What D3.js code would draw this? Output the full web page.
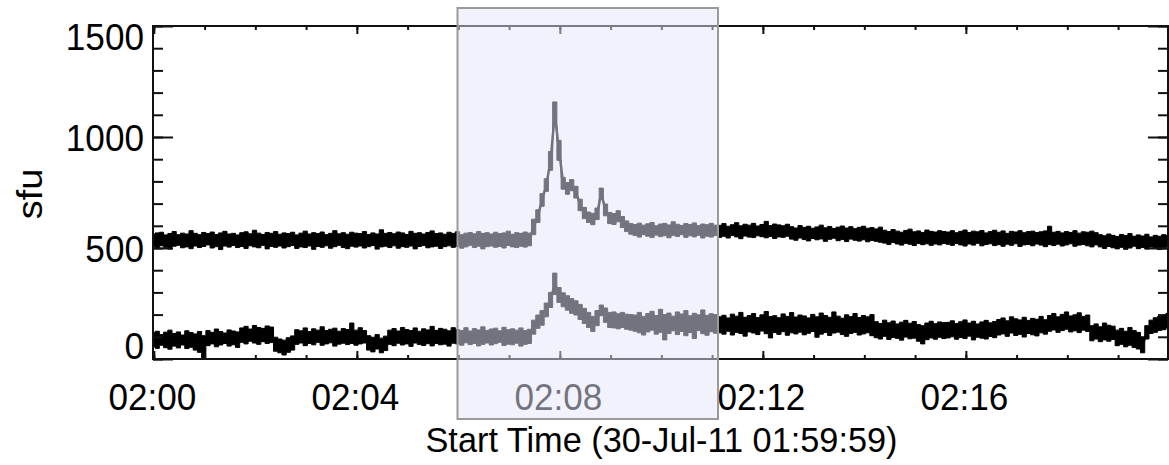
<!DOCTYPE html>
<html><head><meta charset="utf-8">
<script src="https://cdn.jsdelivr.net/npm/d3@7"></script>
<style>
body{margin:0;background:#fff}
svg{display:block}
text{font-family:"Liberation Sans",Arial,Helvetica,sans-serif;fill:#000}
</style>
</head><body>
<svg id="chart" width="1169" height="465"></svg>
<script>
// ---------- data ----------
const startTime = "2011-07-30T01:59:59";
const durationMin = 20;
const cadenceSec = 5;
const xTickLabels = ["02:00","02:04","02:08","02:12","02:16"];
const yTickValues = [0, 500, 1000, 1500];
const yLabel = "sfu";
const xTitle = "Start Time (30-Jul-11 01:59:59)";
const highlightWindow = ["2011-07-30T02:05:59", "2011-07-30T02:11:07"];

// upper series (sfu): envelope low / high per 5-s sample
const upperHi = [
562,568,571,559,565,574,560,567,563,578,566,560,570,565,572,561,568,575,563,566,
559,569,573,564,580,567,561,570,566,574,562,568,565,571,559,567,576,563,569,565,
572,560,566,578,564,569,562,571,567,565,574,561,568,563,582,566,570,564,572,568,
561,575,566,569,563,570,577,565,568,562,571,566,573,560,567,570,564,574,566,569,
563,571,565,568,576,562,569,566,572,567,
630,672,745,812,935,1158,985,818,795,808,778,720,683,662,656,680,770,698,660,655,668,642,622,610,
606,612,603,609,615,600,608,611,604,618,607,602,610,606,613,601,608,605,611,603,
602,610,598,605,614,600,607,603,611,599,606,620,601,608,604,600,607,
596,590,601,593,598,589,595,603,591,597,588,594,599,590,596,587,593,598,589,592,586,594,
580,574,583,576,571,579,585,573,577,570,581,575,572,578,574,
572,578,569,575,581,570,576,573,579,568,574,580,571,577,566,575,572,578,569,574,
576,570,573,577,598,571,575,568,574,570,578,567,573,571,576,569,
560,555,563,557,552,561,556,565,553,559,554,562,550,557,553,560,556
];
const upperLo = [
506,499,510,503,495,508,512,501,505,497,509,502,507,514,500,506,493,509,504,511,
502,507,498,510,505,501,512,496,507,503,509,500,506,511,498,505,502,509,494,507,
503,510,499,506,512,502,497,508,504,509,500,506,511,495,505,508,502,510,499,506,
503,509,496,507,511,501,505,508,498,506,510,503,507,499,505,512,502,508,496,506,
509,503,507,500,511,505,502,508,504,510,
560,615,688,755,850,1050,895,765,742,758,725,668,632,615,605,628,720,645,610,606,618,592,574,562,
556,549,560,553,547,558,551,555,546,557,552,560,548,555,550,557,545,553,549,556,
548,553,545,556,550,542,554,549,547,555,551,546,552,543,550,548,553,
540,535,545,538,532,543,537,541,530,539,544,533,538,529,540,535,531,537,528,534,530,526,
522,516,525,518,513,521,517,511,520,515,519,512,518,514,520,
517,512,520,514,509,518,513,521,510,516,519,511,515,508,517,512,519,507,514,516,
510,518,513,506,515,511,517,509,514,519,508,513,516,510,505,514,
505,498,507,501,496,503,494,500,508,497,502,495,504,499,493,501,506
];

// lower series (sfu): envelope low / high per 5-s sample
const lowerHi = [
118,125,110,121,130,115,122,108,127,119,113,124,105,
128,120,135,124,117,131,126,122,
140,147,135,151,142,138,149,144,
98,90,85,96,104,
132,127,140,124,136,130,145,128,134,139,125,137,
133,162,130,141,128,
105,98,110,94,103,
130,137,126,142,133,128,140,125,136,131,147,129,138,134,127,141,
133,128,141,126,137,131,145,129,135,139,127,143,132,136,130,140,128,134,
175,198,218,252,300,387,322,298,285,272,262,246,228,210,192,218,243,230,210,212,204,210,202,200,
198,210,192,205,215,196,224,200,207,193,212,203,218,195,206,199,221,197,204,200,
190,197,185,202,193,210,188,196,205,187,199,214,191,195,186,203,192,209,189,198,
194,185,201,190,207,196,188,212,193,184,199,191,205,187,196,190,200,
168,160,175,163,171,158,166,174,161,169,155,150,162,170,159,167,164,
165,172,160,168,176,162,170,158,167,174,163,169,
178,185,172,190,181,176,188,174,183,179,192,177,
196,205,190,201,212,194,199,208,192,198,
150,158,145,162,152,148,
130,138,125,142,128,120,
100,
150,175,186,192,198,205
];
const lowerLo = [
55,48,62,51,44,58,50,63,47,53,40,30,5,
60,68,55,63,70,58,64,52,
75,68,80,72,66,78,70,74,
35,28,18,30,40,
66,72,60,70,64,75,62,68,73,58,67,71,
65,70,62,68,72,
40,32,45,28,38,
66,60,71,63,68,57,72,65,61,69,59,70,64,67,58,71,
68,62,73,65,70,59,66,72,63,69,75,61,67,64,71,58,66,70,
112,138,152,190,232,290,255,235,220,206,198,178,160,142,124,150,195,165,142,140,136,142,134,130,
125,118,108,122,130,112,120,86,115,127,110,124,105,119,92,128,114,107,123,116,
118,112,125,108,120,115,103,122,117,110,126,114,95,119,111,123,107,118,113,121,
109,116,124,98,112,119,106,117,121,110,102,115,120,108,113,118,105,
96,90,102,88,97,93,85,99,91,94,80,68,87,95,89,98,92,
95,100,89,97,92,103,86,98,94,90,101,96,
108,113,102,117,106,111,99,115,109,104,118,112,
125,131,120,128,134,122,127,119,130,124,
82,90,78,86,80,88,
60,66,55,62,52,45,
28,
90,115,120,128,132,140
];

// ---------- layout ----------
const W = 1169, H = 465;
const L = 153, R = 1168, T = 26, B = 359;
const boxTop = 8, boxBottom = 419;
const fontTick = 37, squeeze = 0.95;

const svg = d3.select("#chart");
const t0 = new Date(startTime);
const t1 = new Date(t0.getTime() + durationMin * 60000);
const x = d3.scaleTime().domain([t0, t1]).range([L, R]);
const y = d3.scaleLinear().domain([0, 1500]).range([B, T]);

const times = upperHi.map((_, i) => new Date(t0.getTime() + i * cadenceSec * 1000));

// clip
svg.append("defs").append("clipPath").attr("id", "plotclip")
  .append("rect").attr("x", L).attr("y", T).attr("width", R - L).attr("height", B - T);

// data
const gData = svg.append("g").attr("clip-path", "url(#plotclip)");
function drawSeries(lo, hi) {
  const idx = d3.range(lo.length);
  const area = d3.area().curve(d3.curveStep)
    .x(i => x(times[i])).y0(i => y(lo[i])).y1(i => y(hi[i]));
  gData.append("path").attr("d", area(idx)).attr("fill", "#000")
    .attr("stroke", "#000").attr("stroke-width", 1);
  const line = d3.line().x(i => x(times[i])).y(i => y((lo[i] + hi[i]) / 2));
  gData.append("path").attr("d", line(idx)).attr("fill", "none")
    .attr("stroke", "#000").attr("stroke-width", 2.5);
}
drawSeries(upperLo, upperHi);
drawSeries(lowerLo, lowerHi);

// axes ticks (inward)
function styleAxis(g) {
  g.select(".domain").remove();
  g.selectAll(".tick line").attr("stroke", "#111").attr("stroke-width", 2);
  g.selectAll(".tick text").remove();
}
const majT = d3.timeMinute.every(4), minT = d3.timeMinute.every(1);
svg.append("g").attr("transform", `translate(0,${B})`)
  .call(d3.axisBottom(x).ticks(minT).tickSize(-4)).call(styleAxis);
svg.append("g").attr("transform", `translate(0,${B})`)
  .call(d3.axisBottom(x).ticks(majT).tickSize(-8)).call(styleAxis);
svg.append("g").attr("transform", `translate(0,${T})`)
  .call(d3.axisTop(x).ticks(minT).tickSize(-4)).call(styleAxis);
svg.append("g").attr("transform", `translate(0,${T})`)
  .call(d3.axisTop(x).ticks(majT).tickSize(-8)).call(styleAxis);
const minorY = d3.range(0, 1501, 100);
svg.append("g").attr("transform", `translate(${L},0)`)
  .call(d3.axisLeft(y).tickValues(minorY).tickSize(-10)).call(styleAxis);
svg.append("g").attr("transform", `translate(${L},0)`)
  .call(d3.axisLeft(y).tickValues(yTickValues).tickSize(-20)).call(styleAxis);
svg.append("g").attr("transform", `translate(${R},0)`)
  .call(d3.axisRight(y).tickValues(minorY).tickSize(-10)).call(styleAxis);
svg.append("g").attr("transform", `translate(${R},0)`)
  .call(d3.axisRight(y).tickValues(yTickValues).tickSize(-20)).call(styleAxis);

// frame
svg.append("rect").attr("x", L).attr("y", T).attr("width", R - L).attr("height", B - T)
  .attr("fill", "none").attr("stroke", "#111").attr("stroke-width", 2);

// x tick labels
const majorTicks = x.ticks(majT);
svg.append("g").selectAll("text").data(majorTicks).join("text")
  .attr("transform", (d) => `translate(${x(d) - 1.5},410) scale(${squeeze},1)`)
  .attr("text-anchor", "middle").attr("font-size", fontTick)
  .text((d, i) => xTickLabels[i]);

// y tick labels (end labels pulled inside like the original)
const yShift = v => v === 1500 ? 10 : (v === 0 ? -14 : 0);
svg.append("g").selectAll("text").data(yTickValues).join("text")
  .attr("transform", v => `translate(144,${y(v) + 13.5 + yShift(v)}) scale(${squeeze},1)`)
  .attr("text-anchor", "end").attr("font-size", fontTick)
  .text(v => String(v));

// highlight box (translucent overlay)
const hx0 = x(new Date(highlightWindow[0])), hx1 = x(new Date(highlightWindow[1]));
svg.append("rect").attr("x", hx0).attr("y", boxTop).attr("width", hx1 - hx0)
  .attr("height", boxBottom - boxTop).attr("fill", "rgb(230,230,251)").attr("fill-opacity", 0.5);
svg.append("rect").attr("x", hx0).attr("y", boxTop).attr("width", hx1 - hx0)
  .attr("height", boxBottom - boxTop).attr("fill", "none")
  .attr("stroke", "#9a9a9a").attr("stroke-width", 2);

// titles
svg.append("text").attr("transform", `translate(${(L + R) / 2 + 1},452) scale(0.98,1)`)
  .attr("text-anchor", "middle").attr("font-size", 35).text(xTitle);
svg.append("text").attr("transform", `translate(42,194) rotate(-90) scale(1,0.9)`)
  .attr("text-anchor", "middle").attr("font-size", 38).text(yLabel);
</script>
</body></html>
